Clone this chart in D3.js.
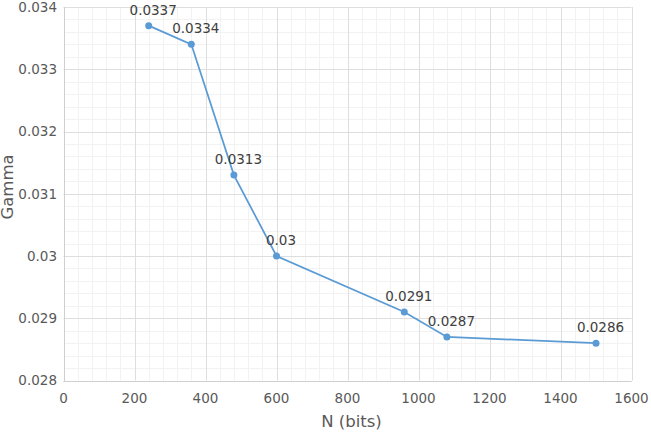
<!DOCTYPE html>
<html>
<head>
<meta charset="utf-8">
<script src="https://cdn.jsdelivr.net/npm/d3@7"></script>
<style>
  body { margin: 0; background: #fff; }
  text { font-family: "DejaVu Sans", sans-serif; }
</style>
</head>
<body>
<div id="vis"></div>
<script>
// chart data
var nBits = [240, 360, 480, 600, 960, 1080, 1500];
var gamma = [0.0337, 0.0334, 0.0313, 0.03, 0.0291, 0.0287, 0.0286];
var xTicks = [0, 200, 400, 600, 800, 1000, 1200, 1400, 1600];
var yTicks = [0.028, 0.029, 0.03, 0.031, 0.032, 0.033, 0.034];

var w = 651;
var h = 432;
// plot box (note: "top" is a reserved window prop, so use other names)
var plotL = 63.5, plotR = 631.5, plotT = 7, plotB = 380.5;

var svg = d3.select("#vis").append("svg").attr("width", w).attr("height", h);

var x = d3.scaleLinear().domain([0, 1600]).range([plotL, plotR]);
var y = d3.scaleLinear().domain([0.028, 0.034]).range([plotB, plotT]);

// minor grid
var xMinor = d3.range(0, 1601, 40);
var yMinor = d3.range(0, 31).map(function (i) { return 0.028 + i * 0.0002; });

svg.append("g").selectAll("line").data(xMinor).enter().append("line")
  .attr("x1", function (d) { return Math.round(x(d)) + 0.5; })
  .attr("x2", function (d) { return Math.round(x(d)) + 0.5; })
  .attr("y1", plotT).attr("y2", plotB)
  .attr("stroke", "#f2f2f2");

svg.append("g").selectAll("line").data(yMinor).enter().append("line")
  .attr("y1", function (d) { return Math.round(y(d)) + 0.5; })
  .attr("y2", function (d) { return Math.round(y(d)) + 0.5; })
  .attr("x1", plotL).attr("x2", plotR)
  .attr("stroke", "#f2f2f2");

// major grid
svg.append("g").selectAll("line").data(xTicks).enter().append("line")
  .attr("x1", function (d) { return Math.round(x(d)) + 0.5; })
  .attr("x2", function (d) { return Math.round(x(d)) + 0.5; })
  .attr("y1", plotT).attr("y2", plotB)
  .attr("stroke", "#dedede");

svg.append("g").selectAll("line").data(yTicks).enter().append("line")
  .attr("y1", function (d) { return Math.round(y(d)) + 0.5; })
  .attr("y2", function (d) { return Math.round(y(d)) + 0.5; })
  .attr("x1", plotL).attr("x2", plotR)
  .attr("stroke", "#dedede");

// axis lines
svg.append("line")
  .attr("x1", Math.round(plotL) + 0.5).attr("x2", Math.round(plotL) + 0.5)
  .attr("y1", plotT).attr("y2", plotB + 0.5)
  .attr("stroke", "#cfcfcf");
svg.append("line")
  .attr("x1", plotL).attr("x2", plotR)
  .attr("y1", Math.round(plotB) + 0.5).attr("y2", Math.round(plotB) + 0.5)
  .attr("stroke", "#cfcfcf");

// tick labels
svg.append("g").selectAll("text").data(yTicks).enter().append("text")
  .attr("x", 57)
  .attr("y", function (d) { return y(d); })
  .attr("dy", "0.36em")
  .attr("text-anchor", "end")
  .attr("font-size", "13.5px")
  .attr("fill", "#595959")
  .text(function (d) { return +d.toFixed(3); });

svg.append("g").selectAll("text").data(xTicks).enter().append("text")
  .attr("x", function (d) { return x(d); })
  .attr("y", 398.5)
  .attr("dy", "0.36em")
  .attr("text-anchor", "middle")
  .attr("font-size", "13.5px")
  .attr("fill", "#595959")
  .text(function (d) { return d; });

// axis titles
svg.append("text")
  .attr("x", (plotL + plotR) / 2 + 4)
  .attr("y", 421.5)
  .attr("dy", "0.36em")
  .attr("text-anchor", "middle")
  .attr("font-size", "16.5px")
  .attr("fill", "#595959")
  .text("N (bits)");

svg.append("text")
  .attr("transform", "translate(13,187) rotate(-90)")
  .attr("text-anchor", "middle")
  .attr("font-size", "16.5px")
  .attr("fill", "#595959")
  .text("Gamma");

// series
var line = d3.line()
  .x(function (d, i) { return x(nBits[i]); })
  .y(function (d) { return y(d); });

svg.append("path")
  .datum(gamma)
  .attr("d", line)
  .attr("fill", "none")
  .attr("stroke", "#5b9bd5")
  .attr("stroke-width", 1.75);

svg.append("g").selectAll("circle").data(gamma).enter().append("circle")
  .attr("cx", function (d, i) { return x(nBits[i]); })
  .attr("cy", function (d) { return y(d); })
  .attr("r", 3.5)
  .attr("fill", "#5b9bd5");

svg.append("g").selectAll("text").data(gamma).enter().append("text")
  .attr("x", function (d, i) { return x(nBits[i]) + 4.5; })
  .attr("y", function (d) { return y(d) - 16; })
  .attr("dy", "0.36em")
  .attr("text-anchor", "middle")
  .attr("font-size", "13.5px")
  .attr("fill", "#404040")
  .text(function (d) { return d; });
</script>
</body>
</html>
